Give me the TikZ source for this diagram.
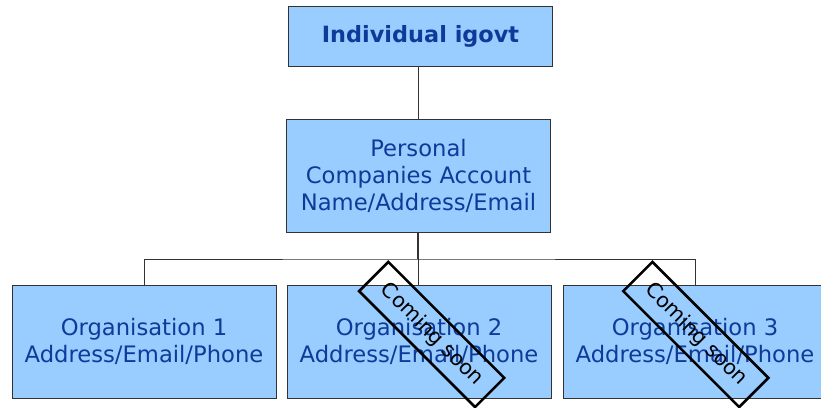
\documentclass[tikz,border=0pt]{standalone}
\usepackage{fontspec}
\setmainfont{DejaVu Sans}
\definecolor{boxfill}{HTML}{99CCFF}
\definecolor{boxtext}{HTML}{0F3A9A}
\definecolor{edge}{HTML}{333333}
\begin{document}
\begin{tikzpicture}[x=0.75pt,y=-0.75pt,
  orgbox/.style={draw=edge,line width=0.75pt,fill=boxfill,text=boxtext,
    align=center,inner sep=0pt,minimum width=198pt,
    font=\fontsize{17}{20.25}\selectfont},
  link/.style={draw=edge,line width=0.75pt},
  soon/.style={draw=black,line width=1.9pt,rotate=-45,inner sep=0pt,
    minimum width=123pt,minimum height=31pt,
    font=\fontsize{15.5}{18}\selectfont}]
\clip (0,0) rectangle (821,407);
\useasboundingbox (0,0) rectangle (821,407);

\node[orgbox,minimum height=45pt,font=\fontsize{16.8}{20}\bfseries] (top) at (420.5,36) {Individual igovt};
\node[orgbox,minimum height=84.75pt] (pers) at (418.5,175.5)
  {Personal\\Companies Account\\Name/Address/Email};

\node[orgbox,minimum height=84.75pt] (org1) at (144,341.5) {Organisation 1\\Address/Email/Phone};
\node[orgbox,minimum height=84.75pt] (org2) at (419,341.5) {Organisation 2\\Address/Email/Phone};
\node[orgbox,minimum height=84.75pt] (org3) at (695,341.5) {Organisation 3\\Address/Email/Phone};

\coordinate (bus) at (418,259);
\draw[link] (pers.north -| bus) -- (top.south -| bus);
\draw[link,line width=1.5pt] (pers.south -| bus) -- (bus);
\draw[link] (org1.north) |- (bus) -| (org3.north);
\draw[link] (org2.north -| bus) -- (bus);

\node[soon] (soon2) at (431.7,334.5) {Coming soon};
\node[soon] (soon3) at (695.8,334.5) {Coming soon};
\end{tikzpicture}
\end{document}
